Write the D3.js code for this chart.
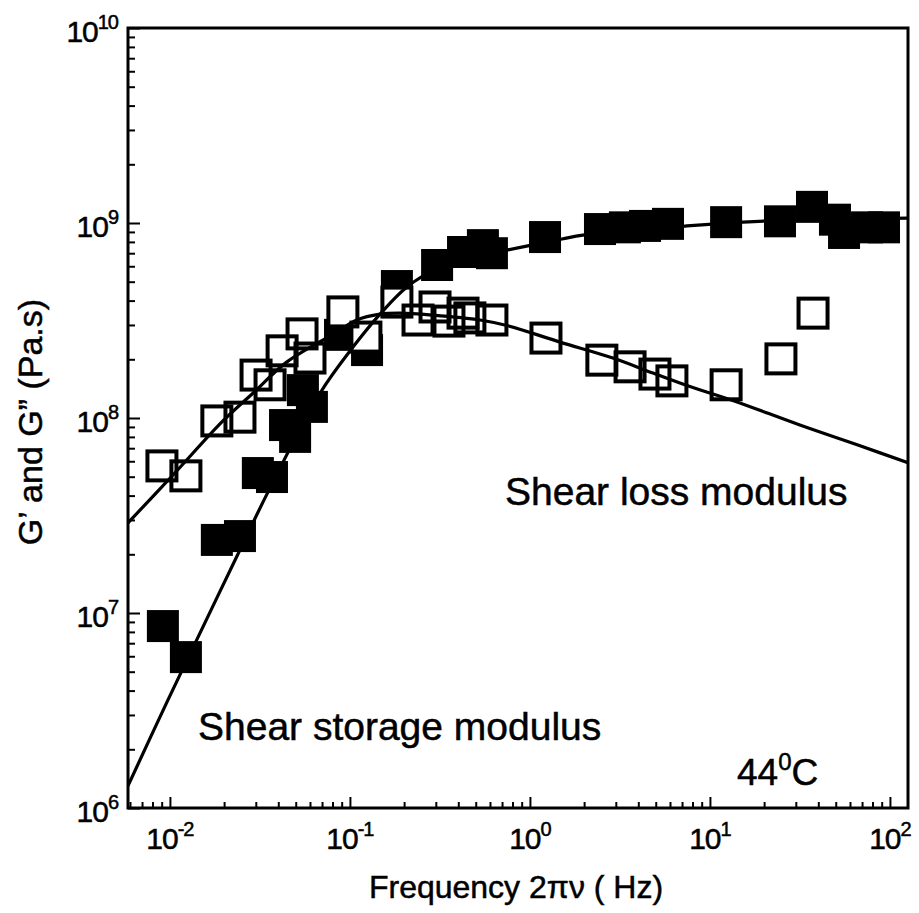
<!DOCTYPE html>
<html>
<head>
<meta charset="utf-8">
<script src="https://cdn.jsdelivr.net/npm/d3@7"></script>
<style>
  body { margin: 0; background: #fff; }
  svg text { font-family: "Liberation Sans", Arial, Helvetica, sans-serif; fill: #000; stroke: #000; stroke-width: 0.5px; }
</style>
</head>
<body>
<svg id="chart" width="919" height="913"></svg>
<script>
// Shear storage modulus G' (filled squares)
const storageFreq = [0.00914, 0.01227, 0.01823, 0.0245, 0.0308, 0.0369, 0.0436, 0.0496, 0.0548, 0.0615,
                     0.0881, 0.1245, 0.1824, 0.305, 0.425, 0.548, 0.615, 1.213, 2.45, 3.37,
                     4.36, 5.85, 12.3, 24.5, 36.9, 49.5, 55.6, 74.6, 92.7]
const storageG = [8.57e6, 5.94e6, 2.37e7, 2.48e7, 5.22e7, 4.98e7, 9.2e7, 8.0e7, 1.39e8, 1.14e8,
                  2.67e8, 2.23e8, 4.75e8, 6.09e8, 7.1e8, 7.7e8, 7.0e8, 8.47e8, 9.31e8, 9.5e8,
                  9.66e8, 9.9e8, 1.01e9, 1.02e9, 1.21e9, 1.04e9, 8.89e8, 9.5e8, 9.5e8]

// Shear loss modulus G'' (open squares)
const lossFreq = [0.00903, 0.01227, 0.01823, 0.0245, 0.0301, 0.036, 0.042, 0.0542, 0.06, 0.0914,
                  0.1227, 0.1824, 0.239, 0.297, 0.355, 0.425, 0.464, 0.615, 1.228, 2.51,
                  3.6, 4.95, 6.15, 12.3, 24.8, 37.4]
const lossG = [5.68e7, 5.05e7, 9.66e7, 1.01e8, 1.66e8, 1.48e8, 2.21e8, 2.7e8, 2.03e8, 3.5e8,
               2.6e8, 3.93e8, 3.18e8, 3.71e8, 3.14e8, 3.45e8, 3.26e8, 3.18e8, 2.57e8, 1.98e8,
               1.83e8, 1.68e8, 1.55e8, 1.48e8, 2.01e8, 3.45e8]

// fitted curves
const fitStorageFreq = [0.00585, 0.00964, 0.01469, 0.0236, 0.0346, 0.0682, 0.104, 0.147, 0.2075,
                        0.316, 0.496, 0.755, 1.507, 1.97, 7.46, 15.3, 31.6, 126]
const fitStorageG = [1.3e6, 3.5e6, 7.89e6, 1.96e7, 4.07e7, 1.34e8, 2.31e8, 3.41e8, 4.7e8,
                     5.94e8, 6.78e8, 7.28e8, 8.28e8, 8.67e8, 9.66e8, 1.01e9, 1.04e9, 1.06e9]
const fitLossFreq = [0.00585, 0.0104, 0.0197, 0.0289, 0.0447, 0.0847, 0.109, 0.147, 0.19, 0.289,
                     0.528, 0.755, 1.47, 2.89, 4.83, 7.74, 13.4, 31.6, 68.2, 126]
const fitLossG = [2.9e7, 5.1e7, 9.66e7, 1.34e8, 1.94e8, 2.76e8, 3.18e8, 3.41e8, 3.45e8, 3.37e8,
                  3.18e8, 2.97e8, 2.45e8, 2.03e8, 1.70e8, 1.45e8, 1.23e8, 9.2e7, 7.2e7, 5.9e7]

// tick labels
const xTickExp = [-2, -1, 0, 1, 2]
const yTickExp = [6, 7, 8, 9, 10]

const svg = d3.select("#chart")
const mLeft = 128, mTop = 28, w = 780, h = 780

const x = d3.scaleLog().domain([0.00585, 126]).range([mLeft, mLeft + w])
const y = d3.scaleLog().domain([1e6, 1e10]).range([mTop + h, mTop])

// minor ticks
function minors(scale) {
    let [a, b] = scale.domain()
    let out = []
    for (let e = Math.floor(Math.log10(a)); e <= Math.ceil(Math.log10(b)); e++) {
        for (let k = 2; k <= 9; k++) {
            let v = k * Math.pow(10, e)
            if (v > a && v < b) out.push(v)
        }
    }
    return out
}

// axes (ticks pointing inward)
function drawAxis(axis) {
    return g => {
        g.call(axis)
        g.select(".domain").remove()
        g.selectAll("line").attr("stroke", "#000").attr("stroke-width", 2)
    }
}
svg.append("g").attr("transform", `translate(${mLeft},0)`)
    .call(drawAxis(d3.axisLeft(y).tickValues(minors(y)).tickSize(-7).tickFormat("")))
svg.append("g").attr("transform", `translate(${mLeft},0)`)
    .call(drawAxis(d3.axisLeft(y).tickValues(yTickExp.map(e => Math.pow(10, e))).tickSize(-12).tickFormat("")))
svg.append("g").attr("transform", `translate(0,${mTop + h})`)
    .call(drawAxis(d3.axisBottom(x).tickValues(minors(x)).tickSize(-6).tickFormat("")))
svg.append("g").attr("transform", `translate(0,${mTop + h})`)
    .call(drawAxis(d3.axisBottom(x).tickValues(xTickExp.map(e => Math.pow(10, e))).tickSize(-11).tickFormat("")))

// tick labels with superscript exponents
yTickExp.forEach(e => {
    let t = svg.append("text")
        .attr("x", mLeft - 10)
        .attr("y", y(Math.pow(10, e)) + 14)
        .attr("text-anchor", "end")
        .style("font-size", "30px")
        .style("letter-spacing", "-1px")
    t.append("tspan").text("10")
    t.append("tspan").attr("dy", -13).style("font-size", "20px").text(e)
})
xTickExp.forEach(e => {
    let t = svg.append("text")
        .attr("x", x(Math.pow(10, e)))
        .attr("y", mTop + h + 41)
        .attr("text-anchor", "middle")
        .style("font-size", "30px")
        .style("letter-spacing", "-1px")
    t.append("tspan").text("10")
    t.append("tspan").attr("dy", -13).style("font-size", "20px").text(e)
})

// axis titles
svg.append("text")
    .attr("x", 516).attr("y", 898)
    .attr("text-anchor", "middle")
    .style("font-size", "32px")
    .text("Frequency 2\u03C0\u03BD ( Hz)")
svg.append("text")
    .attr("transform", "translate(42,422) rotate(-90)")
    .attr("text-anchor", "middle")
    .style("font-size", "34px")
    .text("G\u2019 and G\u201D (Pa.s)")

// clip
svg.append("clipPath").attr("id", "plot")
    .append("rect").attr("x", mLeft).attr("y", mTop).attr("width", w).attr("height", h)

const plot = svg.append("g").attr("clip-path", "url(#plot)")

const sq = 32, osq = 29

plot.append("g").selectAll("rect")
    .data(storageFreq.map((f, i) => [f, storageG[i]]))
    .join("rect")
    .attr("x", d => x(d[0]) - sq / 2)
    .attr("y", d => y(d[1]) - sq / 2)
    .attr("width", sq).attr("height", sq)
    .attr("fill", "#000")

const lossData = lossFreq.map((f, i) => [f, lossG[i]])
plot.append("g").selectAll("rect")
    .data(lossData)
    .join("rect")
    .attr("x", d => x(d[0]) - osq / 2)
    .attr("y", d => y(d[1]) - osq / 2)
    .attr("width", osq).attr("height", osq)
    .attr("fill", "#fff")
plot.append("g").selectAll("rect")
    .data(lossData)
    .join("rect")
    .attr("x", d => x(d[0]) - osq / 2)
    .attr("y", d => y(d[1]) - osq / 2)
    .attr("width", osq).attr("height", osq)
    .attr("fill", "none")
    .attr("stroke", "#000")
    .attr("stroke-width", 4)

const line = d3.line().x(d => x(d[0])).y(d => y(d[1])).curve(d3.curveCatmullRom.alpha(0.5))

plot.append("path")
    .datum(fitStorageFreq.map((f, i) => [f, fitStorageG[i]]))
    .attr("d", line)
    .attr("fill", "none").attr("stroke", "#000").attr("stroke-width", 3.2)
plot.append("path")
    .datum(fitLossFreq.map((f, i) => [f, fitLossG[i]]))
    .attr("d", line)
    .attr("fill", "none").attr("stroke", "#000").attr("stroke-width", 3.2)

// frame
svg.append("rect")
    .attr("x", mLeft).attr("y", mTop).attr("width", w).attr("height", h)
    .attr("fill", "none").attr("stroke", "#000").attr("stroke-width", 3)

// annotations
svg.append("text").attr("x", 505).attr("y", 505).style("font-size", "39px").text("Shear loss modulus")
svg.append("text").attr("x", 198).attr("y", 740).style("font-size", "39px").text("Shear storage modulus")
let temp = svg.append("text").attr("x", 737).attr("y", 785).style("font-size", "37px")
temp.append("tspan").text("44")
temp.append("tspan").attr("dy", -15).style("font-size", "24px").text("0")
temp.append("tspan").attr("dy", 15).text("C")
</script>
</body>
</html>
